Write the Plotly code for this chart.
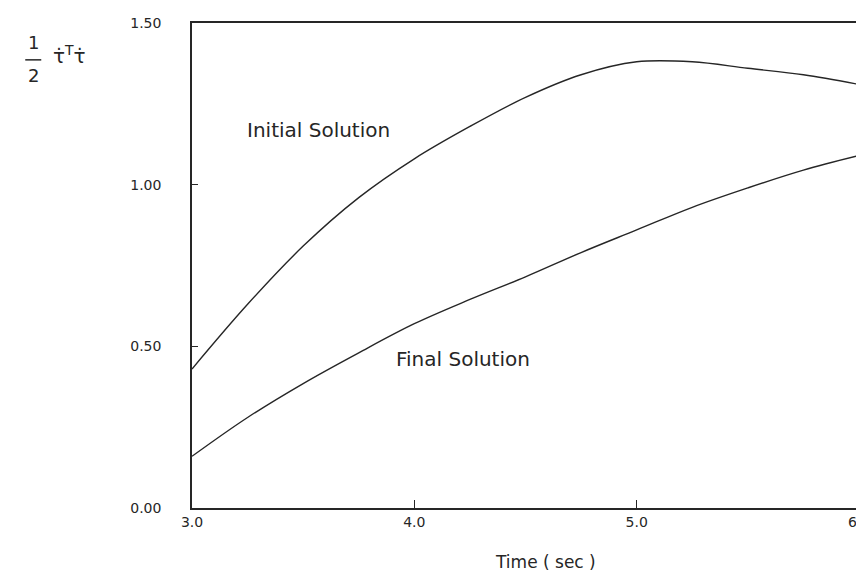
import plotly.graph_objects as go

time_s = [3.0, 3.25, 3.5, 3.75, 4.0, 4.25, 4.5, 4.75, 5.0, 5.25, 5.5, 5.75, 6.0]
initial_solution = [0.43, 0.63, 0.81, 0.96, 1.08, 1.18, 1.27, 1.34, 1.38, 1.38, 1.36, 1.34, 1.31]
final_solution = [0.16, 0.28, 0.385, 0.48, 0.57, 0.645, 0.715, 0.79, 0.86, 0.93, 0.99, 1.045, 1.09]

x_ticks = [3.0, 4.0, 5.0, 6.0]
x_tick_labels = ["3.0", "4.0", "5.0", "6.0"]
y_ticks = [0.0, 0.5, 1.0, 1.5]
y_tick_labels = ["0.00", "0.50", "1.00", "1.50"]

ink = "#262626"
font_family = "DejaVu Sans, Verdana, sans-serif"

fig = go.Figure()
fig.add_trace(go.Scatter(x=time_s, y=initial_solution, mode="lines",
                         line=dict(color=ink, width=1.4, shape="spline"),
                         showlegend=False, name="Initial Solution"))
fig.add_trace(go.Scatter(x=time_s, y=final_solution, mode="lines",
                         line=dict(color=ink, width=1.4, shape="spline"),
                         showlegend=False, name="Final Solution"))

fig.update_layout(
    width=864, height=581,
    margin=dict(l=184, r=13, t=15, b=81, autoexpand=False),
    paper_bgcolor="white", plot_bgcolor="white",
    font=dict(family=font_family, color=ink, size=14),
    showlegend=False,
    xaxis=dict(range=[3.0, 6.0], tickvals=x_ticks, ticktext=x_tick_labels,
               showgrid=False, zeroline=False, showline=True, linecolor=ink,
               linewidth=1.5, mirror=True, ticks="inside", ticklen=8,
               ticklabeloverflow="allow", automargin=False,
               tickcolor=ink, tickfont=dict(size=14, color=ink, family=font_family)),
    yaxis=dict(range=[0.0, 1.5], tickvals=y_ticks, ticktext=y_tick_labels,
               showgrid=False, zeroline=False, showline=True, linecolor=ink,
               linewidth=1.5, mirror=True, ticks="inside", ticklen=6,
               automargin=False,
               tickcolor=ink, tickfont=dict(size=14, color=ink, family=font_family),
               ticklabelstandoff=26),
    annotations=[
        dict(x=3.57, y=1.17, xref="x", yref="y", text="Initial Solution",
             xanchor="center", yanchor="middle",
             showarrow=False, font=dict(size=20, color=ink, family=font_family)),
        dict(x=4.22, y=0.46, xref="x", yref="y", text="Final Solution",
             xanchor="center", yanchor="middle",
             showarrow=False, font=dict(size=20, color=ink, family=font_family)),
        dict(x=0.53, y=-0.112, xref="paper", yref="paper", text="Time ( sec )",
             xanchor="center", yanchor="middle",
             showarrow=False, font=dict(size=17, color=ink, family=font_family)),
        dict(x=-0.238, y=0.959, xref="paper", yref="paper", text="1",
             xanchor="center", yanchor="middle",
             showarrow=False, font=dict(size=18, color=ink, family=font_family)),
        dict(x=-0.238, y=0.891, xref="paper", yref="paper", text="2",
             xanchor="center", yanchor="middle",
             showarrow=False, font=dict(size=18, color=ink, family=font_family)),
        dict(x=-0.183, y=0.935, xref="paper", yref="paper",
             text="τ\u0307<sup>T</sup>τ\u0307",
             xanchor="center", yanchor="middle",
             showarrow=False, font=dict(size=20, color=ink, family=font_family)),
    ],
    shapes=[
        dict(type="line", xref="paper", yref="paper", x0=-0.25, x1=-0.226,
             y0=0.924, y1=0.924, line=dict(color=ink, width=1.5)),
    ],
)

fig.write_html("out.html")
